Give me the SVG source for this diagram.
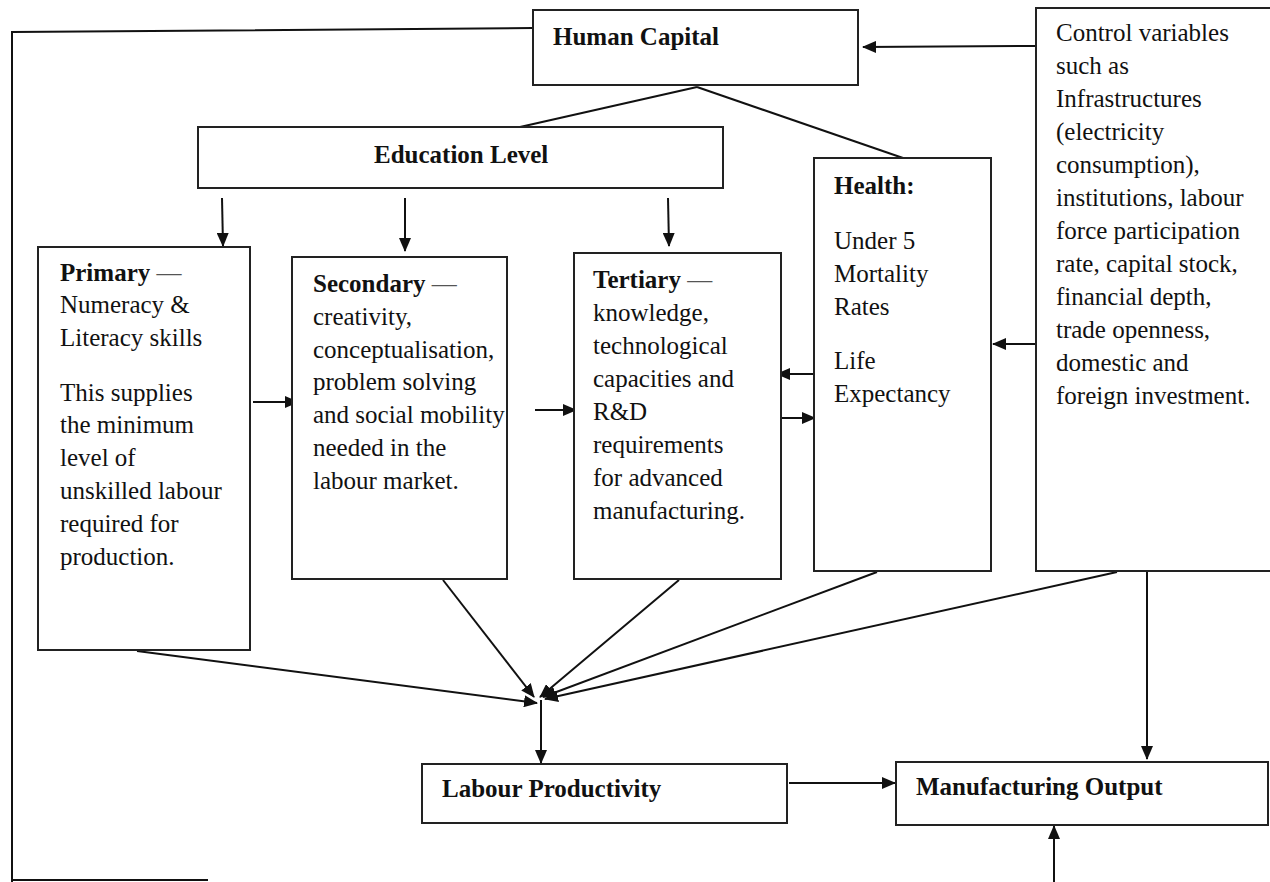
<svg xmlns="http://www.w3.org/2000/svg" width="1270" height="882" viewBox="0 0 1270 882">
  <style>
    .box { fill: #fff; stroke: #222; stroke-width: 2; }
    .wire { fill: none; stroke: #111; stroke-width: 2; }
    .arrow { fill: none; stroke: #111; stroke-width: 2; marker-end: url(#head); }
    text { font-family: "Liberation Serif", "Times New Roman", serif; font-size: 25px; fill: #111; }
    .b { font-weight: bold; }
    .dash { fill: #555; }
  </style>
  <defs>
    <marker id="head" viewBox="0 0 14 12" refX="13" refY="6" markerWidth="14" markerHeight="12" markerUnits="userSpaceOnUse" orient="auto">
      <path d="M0,0 L14,6 L0,12 Z" fill="#111"/>
    </marker>
  </defs>
  <rect width="1270" height="882" fill="#fff"/>

  <!-- connectors -->
  <g id="connectors">
    <!-- feedback loop along the left edge -->
    <polyline class="wire" points="533,28 12,32 12,882"/>
    <line class="wire" x1="12" y1="880" x2="208" y2="880"/>
    <!-- human capital splits into education and health -->
    <line class="wire" x1="697" y1="87" x2="520" y2="127"/>
    <line class="wire" x1="697" y1="87" x2="903" y2="158"/>
    <!-- controls -->
    <line class="arrow" x1="1036" y1="46" x2="863" y2="47"/>
    <line class="arrow" x1="1036" y1="344" x2="993" y2="344"/>
    <line class="arrow" x1="1147" y1="572" x2="1147" y2="759"/>
    <!-- education level to stages -->
    <line class="arrow" x1="222" y1="198" x2="223" y2="246"/>
    <line class="arrow" x1="405" y1="198" x2="405" y2="251"/>
    <line class="arrow" x1="668" y1="198" x2="669" y2="246"/>
    <!-- between stages -->
    <line class="arrow" x1="253" y1="402" x2="298" y2="402"/>
    <line class="arrow" x1="535" y1="410" x2="576" y2="410"/>
    <line class="arrow" x1="814" y1="374" x2="777" y2="374"/>
    <line class="arrow" x1="781" y1="418" x2="815" y2="418"/>
    <!-- convergence on labour productivity -->
    <line class="arrow" x1="137" y1="651" x2="537" y2="703"/>
    <line class="arrow" x1="443" y1="580" x2="534" y2="697"/>
    <line class="arrow" x1="679" y1="580" x2="540" y2="697"/>
    <line class="arrow" x1="877" y1="572" x2="543" y2="697"/>
    <line class="arrow" x1="1117" y1="572" x2="545" y2="699"/>
    <line class="arrow" x1="541" y1="700" x2="541" y2="763"/>
    <!-- outputs -->
    <line class="arrow" x1="789" y1="783" x2="895" y2="783"/>
    <line class="arrow" x1="1054" y1="882" x2="1054" y2="826"/>
  </g>

  <g id="human-capital">
    <rect class="box" x="533" y="10" width="325" height="75"/>
    <text class="b" x="553" y="45">Human Capital</text>
  </g>

  <g id="education-level">
    <rect class="box" x="198" y="127" width="525" height="61"/>
    <text class="b" x="374" y="163">Education Level</text>
  </g>

  <g id="primary">
    <rect class="box" x="38" y="247" width="212" height="403"/>
    <text x="60" y="281"><tspan class="b">Primary</tspan><tspan class="dash"> —</tspan></text>
    <text x="60" y="313">Numeracy &amp;</text>
    <text x="60" y="346">Literacy skills</text>
    <text x="60" y="401">This supplies</text>
    <text x="60" y="433">the minimum</text>
    <text x="60" y="466">level of</text>
    <text x="60" y="499">unskilled labour</text>
    <text x="60" y="532">required for</text>
    <text x="60" y="565">production.</text>
  </g>

  <g id="secondary">
    <rect class="box" x="292" y="257" width="215" height="322"/>
    <text x="313" y="292"><tspan class="b">Secondary</tspan><tspan class="dash"> —</tspan></text>
    <text x="313" y="325">creativity,</text>
    <text x="313" y="358">conceptualisation,</text>
    <text x="313" y="390">problem solving</text>
    <text x="313" y="423">and social mobility</text>
    <text x="313" y="456">needed in the</text>
    <text x="313" y="489">labour market.</text>
  </g>

  <g id="tertiary">
    <rect class="box" x="574" y="253" width="207" height="326"/>
    <text x="593" y="288"><tspan class="b">Tertiary</tspan><tspan class="dash"> —</tspan></text>
    <text x="593" y="321">knowledge,</text>
    <text x="593" y="354">technological</text>
    <text x="593" y="387">capacities and</text>
    <text x="593" y="420">R&amp;D</text>
    <text x="593" y="453">requirements</text>
    <text x="593" y="486">for advanced</text>
    <text x="593" y="519">manufacturing.</text>
  </g>

  <g id="health">
    <rect class="box" x="814" y="158" width="177" height="413"/>
    <text class="b" x="834" y="194">Health:</text>
    <text x="834" y="249">Under 5</text>
    <text x="834" y="282">Mortality</text>
    <text x="834" y="315">Rates</text>
    <text x="834" y="369">Life</text>
    <text x="834" y="402">Expectancy</text>
  </g>

  <g id="controls">
    <rect class="box" x="1036" y="8" width="240" height="563"/>
    <text x="1056" y="41">Control variables</text>
    <text x="1056" y="74">such as</text>
    <text x="1056" y="107">Infrastructures</text>
    <text x="1056" y="140">(electricity</text>
    <text x="1056" y="173">consumption),</text>
    <text x="1056" y="206">institutions, labour</text>
    <text x="1056" y="239">force participation</text>
    <text x="1056" y="272">rate, capital stock,</text>
    <text x="1056" y="305">financial depth,</text>
    <text x="1056" y="338">trade openness,</text>
    <text x="1056" y="371">domestic and</text>
    <text x="1056" y="404">foreign investment.</text>
  </g>

  <g id="labour-productivity">
    <rect class="box" x="422" y="764" width="365" height="59"/>
    <text class="b" x="442" y="797">Labour Productivity</text>
  </g>

  <g id="manufacturing-output">
    <rect class="box" x="896" y="762" width="372" height="63"/>
    <text class="b" x="916" y="795">Manufacturing Output</text>
  </g>
</svg>
